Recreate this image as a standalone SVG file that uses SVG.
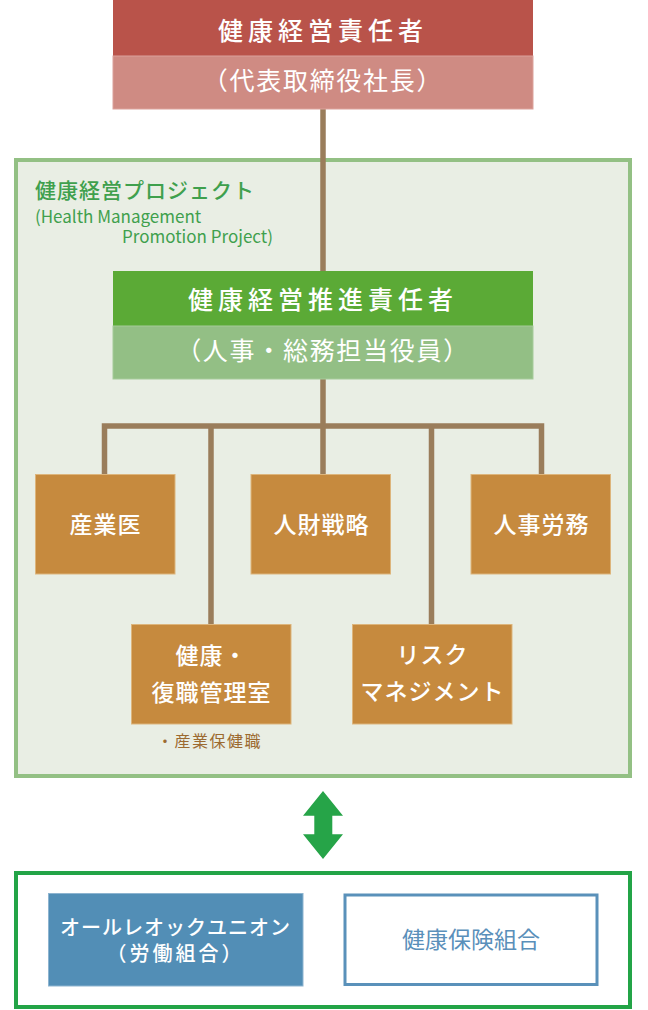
<svg xmlns="http://www.w3.org/2000/svg" width="648" height="1010" viewBox="0 0 648 1010">
  <style>
    text { font-family: "Noto Sans CJK JP", "Noto Sans", sans-serif; }
    .w { fill: #ffffff; text-anchor: middle; }
    .t1 { font-size: 25px; font-weight: 500; letter-spacing: 5px; }
    .t2 { font-size: 25px; font-weight: 400; letter-spacing: 1.7px; }
    .ob { fill: #C68A3E; stroke: #DDB57C; stroke-width: 1; }
    .ot { font-size: 23px; font-weight: 500; letter-spacing: 1px; }
    .con { fill: none; stroke: #9A7D5B; stroke-width: 5.5; stroke-linecap: butt; stroke-linejoin: miter; }
    .green { fill: #3FA04D; }
  </style>

  <!-- project background frame -->
  <g id="project">
    <rect x="16" y="160" width="614" height="616" fill="#E9EEE4" stroke="#93C084" stroke-width="4"/>
    <text class="green" x="35" y="198" font-size="21" font-weight="500" letter-spacing="1">健康経営プロジェクト</text>
    <text class="green" x="35" y="223" font-size="17">(Health Management</text>
    <text class="green" x="122" y="243" font-size="17">Promotion Project)</text>
  </g>

  <!-- connectors -->
  <g id="connectors">
    <line class="con" x1="323" y1="109" x2="323" y2="271"/>
    <line class="con" x1="323" y1="379" x2="323" y2="474"/>
    <path class="con" d="M104.5,474 V426 H541.5 V474"/>
    <line class="con" x1="211" y1="426" x2="211" y2="624"/>
    <line class="con" x1="431.5" y1="426" x2="431.5" y2="624"/>
  </g>

  <g id="ceo">
    <rect x="113" y="0" width="420" height="56" fill="#B9534A"/>
    <rect x="113" y="56" width="420" height="53" fill="#CF8B83" stroke="#DCA29B" stroke-width="1"/>
    <text class="w t1" x="323" y="40">健康経営責任者</text>
    <text class="w t2" x="323" y="90">（代表取締役社長）</text>
  </g>

  <g id="promoter">
    <rect x="113" y="271" width="420" height="55" fill="#5BAA36"/>
    <rect x="113" y="326" width="420" height="53" fill="#93BF85" stroke="#A6CB9A" stroke-width="1"/>
    <text class="w t1" x="323" y="309">健康経営推進責任者</text>
    <text class="w t2" x="323" y="360">（人事・総務担当役員）</text>
  </g>

  <g id="sangyoui">
    <rect class="ob" x="35.5" y="474.5" width="139.5" height="99.5"/>
    <text class="w ot" x="105.5" y="533">産業医</text>
  </g>

  <g id="jinzai">
    <rect class="ob" x="251" y="474.5" width="139.5" height="99.5"/>
    <text class="w ot" x="321.5" y="533">人財戦略</text>
  </g>

  <g id="jinji">
    <rect class="ob" x="471" y="474.5" width="139.5" height="99.5"/>
    <text class="w ot" x="541.5" y="533">人事労務</text>
  </g>

  <g id="kenko">
    <rect class="ob" x="131.5" y="624.5" width="159.5" height="99.5"/>
    <text class="w ot" x="211.5" y="664">健康・</text>
    <text class="w ot" x="211.5" y="700.5">復職管理室</text>
    <text x="157" y="747" font-size="16" letter-spacing="1.5" fill="#9C6A30">・産業保健職</text>
  </g>

  <g id="risk">
    <rect class="ob" x="352.5" y="624.5" width="159.5" height="99.5"/>
    <text class="w ot" x="432.5" y="663">リスク</text>
    <text class="w ot" x="432.5" y="700">マネジメント</text>
  </g>

  <g id="arrow">
    <polygon fill="#26A448" points="323,791 343,815.7 332.3,815.7 332.3,834.3 343,834.3 323,859 303,834.3 314.3,834.3 314.3,815.7 303,815.7"/>
  </g>

  <g id="partners">
    <rect x="16" y="873" width="614" height="134" fill="#ffffff" stroke="#23A447" stroke-width="4"/>
  </g>

  <g id="union">
    <rect x="48.5" y="893.5" width="254.5" height="92.5" fill="#528EB6" stroke="#8DB4D0" stroke-width="1"/>
    <text class="w" x="175.5" y="934.5" font-size="20" font-weight="500" letter-spacing="1">オールレオックユニオン</text>
    <text class="w" x="175.5" y="961" font-size="20" font-weight="500" letter-spacing="3">（労働組合）</text>
  </g>

  <g id="kenpo">
    <rect x="345" y="895" width="252" height="89.5" fill="#ffffff" stroke="#5A91BA" stroke-width="3"/>
    <text x="471" y="948" font-size="23" text-anchor="middle" fill="#5A8FBA">健康保険組合</text>
  </g>
</svg>
